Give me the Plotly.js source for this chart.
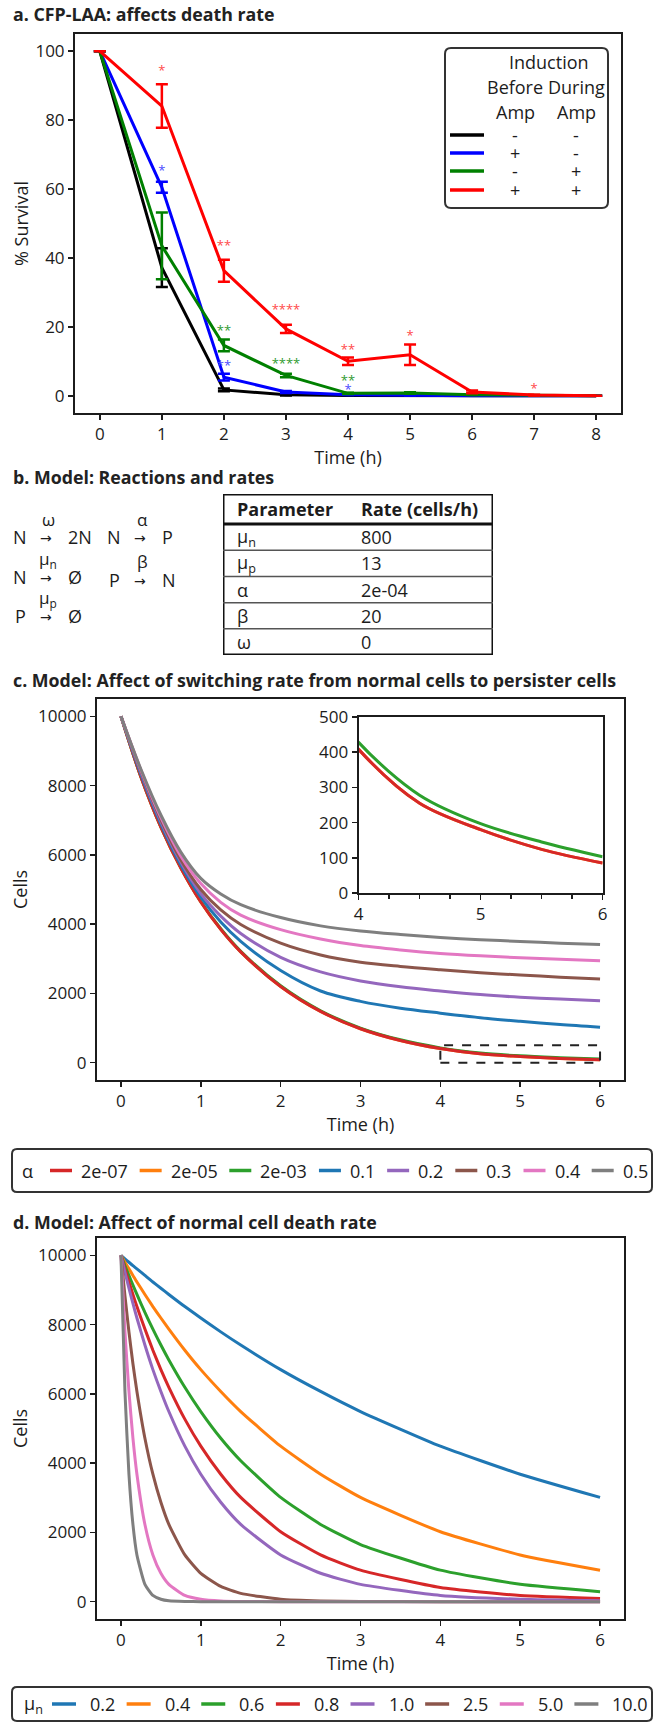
<!DOCTYPE html>
<html><head><meta charset="utf-8">
<script src="https://cdn.plot.ly/plotly-3.0.1.min.js"></script>
<style>html,body{margin:0;padding:0;background:#fff}</style>
</head><body><div id="chart" style="width:654px;height:1723px"></div>
<script>
// ================= DATA =================
// Panel a: % survival vs time
const timeA = [0, 1, 2, 3, 4, 5, 6, 7, 8];
const beforeAmp = ['-', '+', '-', '+'];
const duringAmp = ['-', '-', '+', '+'];
const survBlack = [100, 37.2, 1.7, 0.3, 0.1, 0, 0, 0, 0];
const errBlack  = [0, 5.6, 0.4, 0.2, 0.05, 0, 0, 0, 0];
const survBlue  = [100, 60.5, 5.4, 1.1, 0.3, 0.1, 0, 0, 0];
const errBlue   = [0, 1.6, 1.0, 0.3, 0.1, 0, 0, 0, 0];
const survGreen = [100, 43.5, 14.6, 5.9, 0.7, 0.8, 0.3, 0.1, 0];
const errGreen  = [0, 9.7, 1.7, 0.5, 0.2, 0.2, 0.1, 0, 0];
const survRed   = [100, 84.1, 36.3, 19.4, 10.0, 11.9, 1.1, 0.2, 0];
const errRed    = [0, 6.3, 3.2, 1.2, 1.1, 2.95, 0.4, 0.1, 0];
// significance stars
const starRedX = [1, 2, 3, 4, 5, 7];
const starRedY = [96, 45, 26.7, 14.9, 18.9, 3.5];
const starRedT = ['*', '**', '****', '**', '*', '*'];
const starBlueX = [1, 2, 4];
const starBlueY = [66.8, 10.2, 3.3];
const starBlueT = ['*', '**', '*'];
const starGreenX = [2, 3, 4];
const starGreenY = [20.4, 11, 5.9];
const starGreenT = ['**', '****', '**'];

// Panel b: reactions and rate table
const reactFrom = ['N', 'N', 'P', 'N', 'P'];
const reactRate = ['ω', 'μ<sub>n</sub>', 'μ<sub>p</sub>', 'α', 'β'];
const reactTo   = ['2N', 'Ø', 'Ø', 'P', 'N'];
const tableHeader = ['Parameter', 'Rate (cells/h)'];
const paramNames = ['μ<sub>n</sub>', 'μ<sub>p</sub>', 'α', 'β', 'ω'];
const paramRates = ['800', '13', '2e-04', '20', '0'];

// Panel c: switching rate alpha
const timeC = [0, 0.25, 0.5, 0.75, 1, 1.25, 1.5, 2, 2.5, 3, 3.5, 4, 4.5, 5, 5.5, 6];
const alphaLabels = ['2e-07', '2e-05', '2e-03', '0.1', '0.2', '0.3', '0.4', '0.5'];
const cellsA2e07 = [10000, 8250, 6800, 5620, 4640, 3850, 3200, 2200, 1480, 980, 640, 408, 255, 180, 124, 85];
const cellsA2e05 = [10000, 8250, 6800, 5620, 4640, 3850, 3200, 2200, 1480, 980, 640, 408, 255, 180, 124, 85];
const cellsA2e03 = [10000, 8255, 6810, 5635, 4655, 3865, 3215, 2220, 1500, 1000, 660, 428, 278, 197, 145, 103];
const cellsA01 = [10000, 8320, 6890, 5710, 4780, 4060, 3500, 2660, 2070, 1770, 1570, 1430, 1300, 1195, 1100, 1023];
const cellsA02 = [10000, 8380, 6960, 5790, 4880, 4230, 3730, 3040, 2620, 2360, 2190, 2070, 1965, 1890, 1835, 1785];
const cellsA03 = [10000, 8420, 7020, 5860, 5000, 4410, 3990, 3450, 3110, 2900, 2780, 2685, 2600, 2530, 2470, 2416];
const cellsA04 = [10000, 8450, 7080, 5960, 5170, 4630, 4260, 3840, 3570, 3380, 3255, 3155, 3085, 3030, 2985, 2943];
const cellsA05 = [10000, 8470, 7150, 6080, 5320, 4870, 4560, 4190, 3950, 3800, 3700, 3615, 3550, 3500, 3450, 3410];
const insetRangeX = [4, 6];
const insetRangeY = [0, 500];

// Panel d: normal cell death rate mu_n
const timeD = [0, 0.05, 0.1, 0.15, 0.2, 0.3, 0.4, 0.5, 0.6, 0.8, 1, 1.25, 1.5, 2, 2.5, 3, 4, 5, 6];
const muLabels = ['0.2', '0.4', '0.6', '0.8', '1.0', '2.5', '5.0', '10.0'];
const cellsMu02 = [10000, 9900, 9800, 9700, 9610, 9420, 9230, 9050, 8870, 8520, 8190, 7790, 7410, 6700, 6070, 5490, 4490, 3680, 3010];
const cellsMu04 = [10000, 9800, 9610, 9420, 9230, 8870, 8520, 8190, 7870, 7260, 6700, 6070, 5490, 4490, 3680, 3010, 2020, 1350, 910];
const cellsMu06 = [10000, 9700, 9420, 9140, 8870, 8350, 7870, 7410, 6980, 6190, 5490, 4720, 4070, 3010, 2230, 1650, 910, 500, 290];
const cellsMu08 = [10000, 9610, 9230, 8870, 8520, 7870, 7260, 6700, 6190, 5270, 4490, 3680, 3010, 2020, 1350, 910, 410, 180, 95];
const cellsMu10 = [10000, 9510, 9050, 8610, 8190, 7410, 6700, 6070, 5490, 4490, 3680, 2870, 2230, 1350, 820, 500, 180, 70, 30];
const cellsMu25 = [10000, 8830, 7790, 6870, 6070, 4720, 3680, 2870, 2230, 1350, 820, 440, 240, 70, 20, 5, 0, 0, 0];
const cellsMu50 = [10000, 7790, 6070, 4720, 3680, 2230, 1350, 820, 500, 180, 70, 20, 5, 0, 0, 0, 0, 0, 0];
const cellsMu100 = [10000, 6070, 3680, 2230, 1350, 500, 180, 70, 25, 5, 0, 0, 0, 0, 0, 0, 0, 0, 0];

// ================= STYLE / LAYOUT =================
const W = 654, H = 1723;
const FONT = '"Open Sans", "DejaVu Sans", sans-serif';
const INK = '#1c1c1c';
const tab10 = ['#d62728', '#ff7f0e', '#2ca02c', '#1f77b4', '#9467bd', '#8c564b', '#e377c2', '#7f7f7f'];
const tabMu = ['#1f77b4', '#ff7f0e', '#2ca02c', '#d62728', '#9467bd', '#8c564b', '#e377c2', '#7f7f7f'];
const colorsA = ['#000000', '#0000ff', '#008000', '#ff0000'];
const starCol = {red: '#ff4a4a', blue: '#4a4aff', green: '#2f9a2f'};

const X = v => v / W;
const Y = v => 1 - v / H;
const domX = (a, b) => [a / W, b / W];
const domY = (top, bottom) => [1 - bottom / H, 1 - top / H];

const cv = document.createElement('canvas').getContext('2d');
function textW(t, size, weight) { cv.font = (weight || 'normal') + ' ' + size + 'px "Open Sans"'; return cv.measureText(t).width; }

function axis(extra) {
  return Object.assign({
    showline: true, mirror: true, linecolor: INK, linewidth: 2,
    ticks: 'outside', ticklen: 5, tickwidth: 1.6, tickcolor: INK,
    showgrid: false, zeroline: false, fixedrange: true, tickformat: 'd',
    tickfont: {family: FONT, size: 17, color: INK}
  }, extra);
}
const titleFont = {family: FONT, size: 18, color: INK};

const traces = [];
// ---- panel a ----
const survSeries = [survBlack, survBlue, survGreen, survRed];
const errSeries = [errBlack, errBlue, errGreen, errRed];
survSeries.forEach((s, i) => {
  traces.push({x: timeA, y: s, type: 'scatter', mode: 'lines', xaxis: 'x', yaxis: 'y',
    line: {color: colorsA[i], width: 3},
    error_y: {type: 'data', array: errSeries[i], visible: true, color: colorsA[i], thickness: 2.5, width: 6}});
});
[[starRedX, starRedY, starRedT, starCol.red], [starBlueX, starBlueY, starBlueT, starCol.blue], [starGreenX, starGreenY, starGreenT, starCol.green]].forEach(s => {
  traces.push({x: s[0], y: s[1], text: s[2], type: 'scatter', mode: 'text', xaxis: 'x', yaxis: 'y',
    textposition: 'bottom center', textfont: {family: FONT, size: 13, color: s[3]}, cliponaxis: false});
});

// ---- panel c ----
const alphaSeries = [cellsA2e07, cellsA2e05, cellsA2e03, cellsA01, cellsA02, cellsA03, cellsA04, cellsA05];
const drawOrderC = [1, 2, 0, 3, 4, 5, 6, 7];
drawOrderC.forEach(i => {
  traces.push({x: timeC, y: alphaSeries[i], type: 'scatter', mode: 'lines', xaxis: 'x2', yaxis: 'y2',
    line: {color: tab10[i], width: 3, shape: 'spline', smoothing: 0.9}});
});
[1, 2, 0].forEach(i => {
  traces.push({x: timeC, y: alphaSeries[i], type: 'scatter', mode: 'lines', xaxis: 'x3', yaxis: 'y3',
    line: {color: tab10[i], width: 3, shape: 'spline', smoothing: 0.9}});
});

// ---- panel d ----
const muSeries = [cellsMu02, cellsMu04, cellsMu06, cellsMu08, cellsMu10, cellsMu25, cellsMu50, cellsMu100];
muSeries.forEach((s, i) => {
  traces.push({x: timeD, y: s, type: 'scatter', mode: 'lines', xaxis: 'x4', yaxis: 'y4',
    line: {color: tabMu[i], width: 3, shape: 'spline', smoothing: 0.5}});
});

const shapes = [];
const annotations = [];
function ann(o) { annotations.push(Object.assign({showarrow: false, xref: 'paper', yref: 'paper',
  xanchor: 'center', yanchor: 'middle',
  font: {family: FONT, size: 18, color: INK}}, o)); }
function rrect(x0, y0, x1, y1, r) {
  const f = v => X(v).toFixed(5), g = v => Y(v).toFixed(5);
  return `M${f(x0 + r)},${g(y0)} L${f(x1 - r)},${g(y0)} Q${f(x1)},${g(y0)} ${f(x1)},${g(y0 + r)} ` +
    `L${f(x1)},${g(y1 - r)} Q${f(x1)},${g(y1)} ${f(x1 - r)},${g(y1)} L${f(x0 + r)},${g(y1)} ` +
    `Q${f(x0)},${g(y1)} ${f(x0)},${g(y1 - r)} L${f(x0)},${g(y0 + r)} Q${f(x0)},${g(y0)} ${f(x0 + r)},${g(y0)} Z`;
}

// Panel titles
[['a. CFP-LAA: affects death rate', 14], ['b. Model: Reactions and rates', 477],
 ['c. Model: Affect of switching rate from normal cells to persister cells', 680],
 ['d. Model: Affect of normal cell death rate', 1222]].forEach(t => {
  ann({text: '<b>' + t[0] + '</b>', x: X(11), y: Y(t[1]), xanchor: 'left',
    font: {family: FONT, size: 17.8, color: '#222'}});
});

// Panel a legend (table-like)
shapes.push({type: 'path', xref: 'paper', yref: 'paper', path: rrect(445, 48, 608, 208, 6), line: {color: '#333', width: 2}, fillcolor: 'rgba(255,255,255,0.9)'});
ann({text: 'Induction', x: X(549), y: Y(62)});
ann({text: 'Before', x: X(515), y: Y(87)});
ann({text: 'During', x: X(576), y: Y(87)});
ann({text: 'Amp', x: X(515), y: Y(112)});
ann({text: 'Amp', x: X(576), y: Y(112)});
const legRowsA = [135, 153, 171, 190];
colorsA.forEach((c, i) => {
  shapes.push({type: 'line', xref: 'paper', yref: 'paper', x0: X(450), x1: X(484), y0: Y(legRowsA[i]), y1: Y(legRowsA[i]), line: {color: c, width: 3.5}});
  ann({text: beforeAmp[i], x: X(515), y: Y(legRowsA[i])});
  ann({text: duringAmp[i], x: X(576), y: Y(legRowsA[i])});
});

// Panel b reactions
const reactCol = [0, 0, 0, 1, 1];
const reactRow = [0, 1, 2, 0, 1];
const rowY = [[537, 577, 616], [537, 580]];
const colX0 = [20, 114];
reactFrom.forEach((r, i) => {
  const cx = colX0[reactCol[i]], yy = rowY[reactCol[i]][reactRow[i]];
  ann({text: r, x: X(cx), y: Y(yy)});
  ann({text: '→', x: X(cx + 26), y: Y(yy), font: {family: FONT, size: 14, color: INK}});
  ann({text: reactRate[i], x: X(cx + 28), y: Y(yy - 18), font: {family: FONT, size: 17, color: INK}});
  ann({text: reactTo[i], x: X(cx + 46), y: Y(yy), xanchor: 'left'});
});

// Panel b table on a hidden axis
const headH = 1.15;
shapes.push({type: 'rect', xref: 'x5', yref: 'y5', x0: 0, x1: 1, y0: -headH, y1: paramNames.length, line: {color: '#111', width: 3}});
shapes.push({type: 'line', xref: 'x5', yref: 'y5', x0: 0, x1: 1, y0: 0, y1: 0, line: {color: '#111', width: 3}});
for (let i = 1; i < paramNames.length; i++) {
  shapes.push({type: 'line', xref: 'x5', yref: 'y5', x0: 0, x1: 1, y0: i, y1: i, line: {color: '#555', width: 1.5}});
}
const colTextX = [0.043, 0.502];
tableHeader.forEach((h, j) => {
  annotations.push({text: '<b>' + h + '</b>', xref: 'x5', yref: 'y5', x: colTextX[j], y: -headH / 2, xanchor: 'left', yanchor: 'middle', showarrow: false, font: {family: FONT, size: 18, color: INK}});
});
paramNames.forEach((p, i) => {
  annotations.push({text: p, xref: 'x5', yref: 'y5', x: colTextX[0], y: i + 0.5, xanchor: 'left', yanchor: 'middle', showarrow: false, font: {family: FONT, size: 18, color: INK}});
  annotations.push({text: paramRates[i], xref: 'x5', yref: 'y5', x: colTextX[1], y: i + 0.5, xanchor: 'left', yanchor: 'middle', showarrow: false, font: {family: FONT, size: 18, color: INK}});
});

// dashed zoom box in panel c
shapes.push({type: 'rect', xref: 'x2', yref: 'y2', x0: insetRangeX[0], x1: insetRangeX[1], y0: insetRangeY[0], y1: insetRangeY[1], line: {color: '#222', width: 2, dash: 'dash'}});

// horizontal legends for c and d
function hLegend(titleText, titleX, labels, colors, box, firstX, sampleLen, gap, endX) {
  shapes.push({type: 'path', xref: 'paper', yref: 'paper', path: rrect(box[0], box[1], box[2], box[3], 5), line: {color: '#333', width: 2}});
  const cy = (box[1] + box[3]) / 2;
  ann({text: titleText, x: X(titleX), y: Y(cy)});
  const widths = labels.map(l => textW(l, 18));
  const used = widths.reduce((a, b) => a + b, 0) + labels.length * (sampleLen + gap);
  const space = (endX - firstX - used) / (labels.length - 1);
  let x = firstX;
  labels.forEach((l, i) => {
    shapes.push({type: 'line', xref: 'paper', yref: 'paper', x0: X(x), x1: X(x + sampleLen), y0: Y(cy), y1: Y(cy), line: {color: colors[i], width: 3.5}});
    ann({text: l, x: X(x + sampleLen + gap - 2), y: Y(cy), xanchor: 'left'});
    x += sampleLen + gap + widths[i] + space;
  });
}
hLegend('α', 27, alphaLabels, tab10, [12, 1149, 652, 1192], 50, 22, 9, 648);
hLegend('μ<sub>n</sub>', 33, muLabels, tabMu, [12, 1687, 652, 1721], 52, 24, 14, 648);

const layout = {
  width: W, height: H, margin: {l: 0, r: 0, t: 0, b: 0},
  paper_bgcolor: '#fff', plot_bgcolor: '#fff', showlegend: false,
  font: {family: FONT, color: INK},
  xaxis: axis({domain: domX(75, 621), range: [-0.4, 8.4], dtick: 1, anchor: 'y',
    title: {text: 'Time (h)', font: titleFont, standoff: 6}}),
  yaxis: axis({domain: domY(34, 413), range: [-5, 105], dtick: 20, anchor: 'x',
    title: {text: '% Survival', font: titleFont, standoff: 2}}),
  xaxis2: axis({domain: domX(97, 624), range: [-0.3, 6.3], dtick: 1, anchor: 'y2',
    title: {text: 'Time (h)', font: titleFont, standoff: 3}}),
  yaxis2: axis({domain: domY(699, 1080), range: [-500, 10500], dtick: 2000, anchor: 'x2',
    title: {text: 'Cells', font: titleFont, standoff: 6}}),
  xaxis3: axis({domain: domX(358.6, 602.6), range: insetRangeX, dtick: 1, anchor: 'y3',
    minor: {dtick: 0.25, ticks: 'outside', ticklen: 4, tickwidth: 1.4, tickcolor: INK}}),
  yaxis3: axis({domain: domY(717, 893), range: insetRangeY, dtick: 100, anchor: 'x3'}),
  xaxis4: axis({domain: domX(97, 624), range: [-0.3, 6.3], dtick: 1, anchor: 'y4',
    title: {text: 'Time (h)', font: titleFont, standoff: 4}}),
  yaxis4: axis({domain: domY(1238, 1619), range: [-500, 10500], dtick: 2000, anchor: 'x4',
    title: {text: 'Cells', font: titleFont, standoff: 6}}),
  xaxis5: {domain: domX(223, 493), range: [0, 1], visible: false, fixedrange: true, anchor: 'y5'},
  yaxis5: {domain: domY(494, 655), range: [paramNames.length, -headH], visible: false, fixedrange: true, anchor: 'x5'},
  shapes: shapes, annotations: annotations
};

Plotly.newPlot('chart', traces, layout, {staticPlot: true, displayModeBar: false});
</script></body></html>
